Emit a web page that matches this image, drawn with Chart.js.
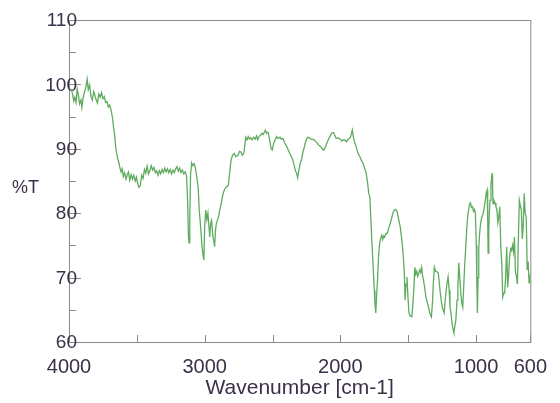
<!DOCTYPE html>
<html>
<head>
<meta charset="utf-8">
<script src="https://cdn.jsdelivr.net/npm/chart.js@4.4.0/dist/chart.umd.min.js"></script>
<style>
  html, body { margin: 0; padding: 0; background: #fff; }
  #wrap { width: 560px; height: 403px; }
</style>
</head>
<body>
<div id="wrap"><canvas id="irChart"></canvas></div>
<script>
// IR spectrum: wavenumber (cm-1) vs transmittance (%T)
const wavenumbers = [
  3985, 3975, 3965, 3957, 3948, 3940, 3932, 3922, 3912, 3905, 3896, 3886, 3876, 3866, 3858, 3848,
  3838, 3828, 3818, 3810, 3800, 3790, 3780, 3770, 3760, 3750, 3740, 3730, 3720, 3710, 3700, 3690,
  3680, 3672, 3664, 3656, 3648,
  3640, 3632, 3624, 3616, 3608, 3600, 3590, 3580, 3572, 3562, 3552, 3542, 3532, 3522, 3512, 3503,
  3494, 3484, 3474, 3464, 3454, 3444, 3434, 3424, 3414, 3404, 3394, 3384, 3374, 3364, 3354, 3344,
  3334, 3324, 3314, 3304, 3294, 3284, 3274, 3264, 3254, 3244, 3234, 3224, 3214, 3204, 3194, 3184,
  3174, 3164, 3154, 3144, 3134,
  3126, 3120, 3115, 3110, 3104, 3096, 3088, 3078, 3068, 3058, 3048, 3040, 3030, 3020, 3012, 3006,
  3000, 2992, 2984, 2976, 2968, 2963, 2956, 2949, 2940, 2932, 2927, 2920, 2913, 2905, 2898, 2888,
  2877, 2866, 2855, 2840, 2826, 2815, 2805, 2795, 2783, 2770, 2754, 2743, 2733, 2722, 2711, 2704,
  2697, 2688, 2679, 2670, 2661, 2650, 2639, 2628, 2618, 2610, 2600, 2589, 2578, 2570, 2560, 2553,
  2545, 2538, 2531, 2520, 2510, 2502, 2492, 2481, 2470, 2460, 2445, 2435, 2423, 2410, 2394, 2384,
  2373, 2362, 2351, 2340, 2330, 2322, 2315, 2306, 2296, 2286, 2276, 2265, 2255, 2243, 2230, 2215,
  2193, 2175, 2160, 2142, 2130, 2121, 2110, 2099, 2085, 2070, 2060, 2049, 2040, 2030, 2013, 2000,
  1990, 1977, 1965, 1955, 1945, 1935, 1926, 1918, 1912, 1904, 1895, 1883, 1870, 1854, 1845, 1833,
  1822, 1811, 1800, 1790, 1782, 1775, 1768, 1761, 1750, 1745, 1739, 1732, 1725, 1718, 1710, 1703,
  1695, 1688, 1680, 1674, 1665, 1653, 1642, 1631, 1620, 1610, 1602, 1592, 1581, 1570, 1559, 1545,
  1535, 1528, 1523, 1516, 1509, 1502, 1494, 1484, 1473, 1465, 1458, 1451, 1444, 1436, 1430, 1422,
  1414, 1408, 1401, 1394, 1386, 1379, 1370, 1360, 1350, 1340, 1329, 1320, 1314, 1307, 1298, 1288,
  1278, 1268, 1257, 1248, 1240, 1235, 1226, 1215, 1206, 1198, 1192, 1185, 1176, 1168, 1163, 1156,
  1149, 1140, 1134, 1127, 1120, 1112, 1105, 1098, 1090, 1084, 1077, 1070, 1062, 1055, 1048, 1041,
  1034, 1026, 1019, 1012, 1005, 998, 994, 990, 985, 980, 975, 969, 962, 955, 947, 940,
  932, 925, 918, 914, 911, 906, 902, 897, 890, 885, 882, 878, 875, 868, 860, 853,
  846, 839, 832, 825, 818, 810, 803, 796, 789, 782, 774, 767, 760, 753, 745, 738,
  731, 724, 717, 710, 702, 695, 688, 681, 672, 666, 659, 652, 645, 638, 630, 623,
  616, 609, 603
];
const transmittance = [
  99.3, 98.6, 97.4, 98.0, 97.2, 99.3, 98.5, 97.0, 97.6, 96.4, 97.9, 98.8, 99.5, 100.8, 99.2, 99.9,
  98.1, 97.6, 98.9, 98.4, 97.6, 97.1, 98.5, 98.0, 98.7, 97.8, 98.1, 97.2, 97.3, 96.5, 96.8, 96.0,
  94.9, 93.4, 92.2, 90.3, 89.2,
  88.4, 87.8, 87.0, 86.4, 86.9, 85.7, 86.3, 85.3, 85.9, 86.4, 85.1, 86.0, 85.3, 85.9, 85.0, 85.6,
  84.6, 84.0, 84.3, 85.9, 85.4, 86.8, 86.2, 87.3, 86.1, 86.6, 87.4, 86.7, 87.1, 86.3, 86.6, 85.9,
  86.6, 86.1, 86.8, 86.3, 87.0, 86.4, 86.9, 86.3, 86.8, 86.1, 86.7, 86.3, 86.9, 87.2, 86.5, 87.0,
  86.3, 86.7, 86.1, 86.4, 85.8,
  82.0, 76.5, 75.4, 79.5, 86.0, 87.8, 87.4, 87.7, 87.0, 85.6, 84.0, 80.5, 77.9, 75.0, 73.5, 72.7,
  78.0, 80.5, 79.0, 80.0, 77.8, 76.3, 78.4, 78.9, 76.5, 75.6, 74.8, 77.5, 78.5, 79.0, 79.4, 80.6,
  81.6, 82.9, 83.6, 84.1, 84.3, 86.5, 88.3, 89.0, 89.3, 88.8, 89.0, 89.6, 89.5, 89.0, 89.3, 90.6,
  91.8, 91.4, 91.9, 91.5, 91.7, 91.4, 91.8, 91.5, 92.0, 91.4, 91.9, 92.1, 92.4, 92.2, 92.6, 92.9,
  92.4, 92.6, 92.5, 91.2, 90.0, 89.8, 90.8, 91.4, 91.9, 91.6, 91.8, 91.5, 91.6, 90.9, 90.3, 89.8,
  89.3, 88.8, 88.3, 87.4, 86.5, 86.2, 85.5, 86.6, 87.8, 88.3, 89.5, 90.3, 91.2, 91.8, 91.7, 91.5,
  91.4, 91.0, 90.6, 90.3, 89.9, 89.8, 90.3, 90.9, 91.6, 92.2, 92.5, 92.5, 92.0, 91.6, 91.7, 91.5,
  91.2, 91.4, 91.3, 91.1, 91.4, 91.6, 91.8, 92.4, 92.9, 91.8, 91.0, 90.3, 89.3, 88.7, 88.2, 87.8,
  87.0, 86.4, 84.8, 83.0, 82.5, 78.9, 75.8, 72.7, 68.0, 66.0, 64.5, 67.5, 70.1, 73.5, 75.4, 76.1,
  76.6, 75.9, 76.5, 76.3, 76.8, 76.9, 77.8, 78.5, 79.4, 80.2, 80.5, 80.6, 80.2, 79.0, 77.9, 75.5,
  73.0, 70.5, 66.5, 69.0, 70.1, 67.0, 64.5, 64.0, 63.9, 66.0, 68.5, 71.6, 70.5, 71.0, 70.2, 70.7,
  71.2, 70.8, 71.6, 70.3, 69.4, 68.5, 67.0, 66.2, 65.4, 64.4, 63.9, 66.5, 69.5, 71.6, 71.0, 70.9,
  70.7, 68.5, 66.5, 65.3, 64.8, 64.5, 66.8, 69.0, 70.1, 68.0, 65.5, 64.5, 62.8, 61.8, 61.4, 62.5,
  63.4, 66.5, 68.5, 72.3, 70.0, 67.5, 66.0, 65.4, 69.0, 71.8, 74.3, 77.0, 79.5, 80.5, 81.4, 81.6,
  80.9, 81.0, 80.3, 80.6, 80.0, 75.0, 69.0, 64.5, 70.0, 74.5, 76.5, 77.9, 79.0, 79.5, 80.0, 80.8,
  82.0, 83.1, 83.6, 79.0, 73.8, 77.5, 80.0, 82.0, 84.5, 85.5, 86.2, 84.0, 81.5, 82.0, 81.6, 81.0,
  80.5, 78.5, 79.5, 81.0, 75.0, 72.0, 67.0, 67.6, 67.6, 70.0, 74.8, 68.5, 70.5, 73.2, 74.5, 74.2,
  75.0, 74.0, 76.3, 71.0, 70.1, 69.0, 76.0, 82.0, 81.0, 80.5, 76.0, 78.0, 83.1, 80.0, 79.4, 71.2,
  72.5, 69.2, 70.5
];
const xTickValues = [4000, 3500, 3000, 2500, 2000, 1500, 1000, 600];
const xLabelValues = [4000, 3000, 2000, 1000, 600];

const points = wavenumbers.map((w, i) => ({ x: w, y: transmittance[i] }));

const axisColor = "#8a8a8a";
const textColor = "#3b3048";
const fontFamily = "'Liberation Sans', Arial, sans-serif";

// box around the plot, inward tick marks, y labels (they run over the axis line)
// and the horizontal %T label
const frameTicks = {
  id: "frameTicks",
  beforeDatasetsDraw(chart) {
    const { ctx, chartArea: a, scales } = chart;
    ctx.save();
    ctx.strokeStyle = axisColor;
    ctx.lineWidth = 1;
    ctx.strokeRect(a.left + 0.5, a.top + 0.5, a.right - a.left, a.bottom - a.top);

    ctx.beginPath();
    xTickValues.forEach((v) => {
      const px = Math.round(scales.x.getPixelForValue(v)) + 0.5;
      ctx.moveTo(px, a.bottom);
      ctx.lineTo(px, a.bottom - 7);
    });
    for (let v = 60; v <= 110; v += 5) {
      const py = Math.round(scales.y.getPixelForValue(v)) + 0.5;
      ctx.moveTo(a.left, py);
      ctx.lineTo(a.left + (v % 10 === 0 ? 12 : 7), py);
    }
    ctx.stroke();

    ctx.fillStyle = textColor;
    ctx.font = "19px " + fontFamily;
    ctx.textAlign = "right";
    ctx.textBaseline = "middle";
    scales.y.ticks.forEach((t) => {
      ctx.fillText(String(t.value), a.left + 8, scales.y.getPixelForValue(t.value) + 1);
    });
    ctx.restore();
  },
  afterDraw(chart) {
    const { ctx } = chart;
    ctx.save();
    ctx.fillStyle = textColor;
    ctx.font = "18px " + fontFamily;
    ctx.textBaseline = "middle";
    ctx.fillText("%T", 12, 188);
    ctx.restore();
  },
};

new Chart(document.getElementById("irChart"), {
  type: "line",
  data: {
    datasets: [
      {
        data: points,
        borderColor: "#5fab5f",
        borderWidth: 1.3,
        pointRadius: 0,
        tension: 0,
        fill: false,
      },
    ],
  },
  options: {
    responsive: true,
    maintainAspectRatio: false,
    animation: false,
    layout: { padding: { top: 20, right: 19, left: 0, bottom: 0 } },
    plugins: { legend: { display: false }, tooltip: { enabled: false } },
    scales: {
      x: {
        type: "linear",
        reverse: true,
        min: 600,
        max: 4000,
        grid: { display: false, drawTicks: false },
        border: { display: false },
        afterBuildTicks: (scale) => {
          scale.ticks = xTickValues.map((v) => ({ value: v }));
        },
        afterFit: (scale) => { scale.height = 61; },
        ticks: {
          autoSkip: false,
          maxRotation: 0,
          padding: 13,
          color: textColor,
          font: { family: fontFamily, size: 20 },
          callback: (v) => (xLabelValues.includes(v) ? String(v) : ""),
        },
        title: {
          display: true,
          text: "Wavenumber [cm-1]",
          color: textColor,
          font: { family: fontFamily, size: 21 },
          padding: { top: 0, bottom: 2 },
        },
      },
      y: {
        min: 60,
        max: 110,
        grid: { display: false, drawTicks: false },
        border: { display: false },
        afterFit: (scale) => { scale.width = 69; },
        ticks: { stepSize: 10, display: false },
      },
    },
  },
  plugins: [frameTicks],
});
</script>
</body>
</html>
